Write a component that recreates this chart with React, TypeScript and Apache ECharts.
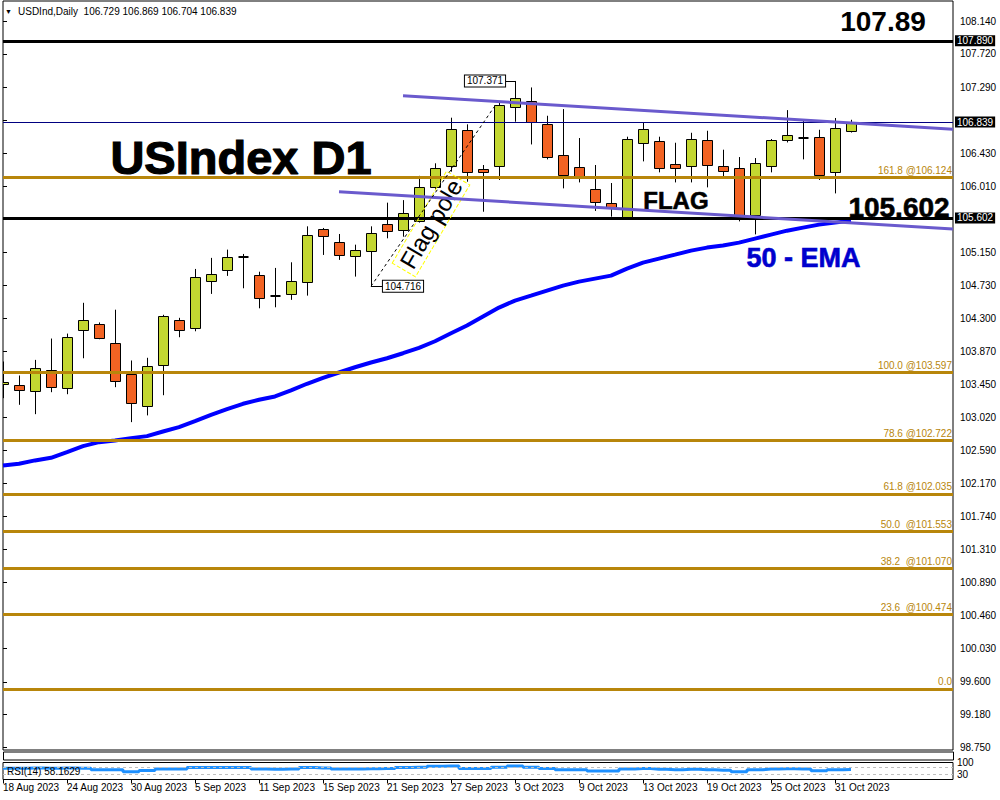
import React, { useEffect, useRef } from "react";
import * as echarts from "echarts";

// Trading days shown on the chart (one candle per day)
const dates = [
  "18 Aug 2023", "21 Aug 2023", "22 Aug 2023", "23 Aug 2023", "24 Aug 2023", "25 Aug 2023",
  "28 Aug 2023", "29 Aug 2023", "30 Aug 2023", "31 Aug 2023", "1 Sep 2023", "4 Sep 2023",
  "5 Sep 2023", "6 Sep 2023", "7 Sep 2023", "8 Sep 2023", "11 Sep 2023", "12 Sep 2023",
  "13 Sep 2023", "14 Sep 2023", "15 Sep 2023", "18 Sep 2023", "19 Sep 2023", "20 Sep 2023",
  "21 Sep 2023", "22 Sep 2023", "25 Sep 2023", "26 Sep 2023", "27 Sep 2023", "28 Sep 2023",
  "29 Sep 2023", "2 Oct 2023", "3 Oct 2023", "4 Oct 2023", "5 Oct 2023", "6 Oct 2023",
  "9 Oct 2023", "10 Oct 2023", "11 Oct 2023", "12 Oct 2023", "13 Oct 2023", "16 Oct 2023",
  "17 Oct 2023", "18 Oct 2023", "19 Oct 2023", "20 Oct 2023", "23 Oct 2023", "24 Oct 2023",
  "25 Oct 2023", "26 Oct 2023", "27 Oct 2023", "30 Oct 2023", "31 Oct 2023", "1 Nov 2023",
];

const opens = [
  103.455, 103.442, 103.364, 103.635, 103.403, 104.152, 104.231, 103.984, 103.583, 103.17,
  103.687, 104.282, 104.178, 104.785, 104.918, 105.086, 104.863, 104.597, 104.617, 104.777,
  105.457, 105.284, 105.112, 105.162, 105.515, 105.443, 105.557, 105.995, 106.271, 106.731,
  106.228, 106.271, 107.03, 107.111, 106.818, 106.413, 106.258, 105.978, 105.788, 105.616,
  106.568, 106.594, 106.297, 106.271, 106.607, 106.271, 106.245, 105.633, 106.271, 106.607,
  106.626, 106.646, 106.194, 106.729,
];
const highs = [
  103.743, 103.562, 103.764, 104.04, 104.104, 104.502, 104.248, 104.413, 103.756, 103.791,
  104.347, 104.308, 104.94, 105.083, 105.19, 105.134, 104.904, 104.953, 105.026, 105.491,
  105.47, 105.392, 105.254, 105.491, 105.797, 105.83, 106.144, 106.306, 106.896, 106.81,
  106.284, 107.1, 107.371, 107.287, 106.921, 107.007, 106.633, 106.284, 106.051, 106.65,
  106.84, 106.65, 106.572, 106.701, 106.727, 106.482, 106.387, 106.374, 106.62, 106.994,
  106.856, 106.74, 106.892, 106.869,
];
const lows = [
  103.269, 103.183, 103.062, 103.346, 103.32, 103.785, 104.031, 103.411, 102.959, 103.046,
  103.307, 104.057, 104.134, 104.617, 104.85, 104.69, 104.431, 104.444, 104.54, 104.595,
  105.121, 105.057, 104.841, 104.716, 105.336, 105.357, 105.54, 105.96, 106.198, 106.068,
  105.68, 106.09, 106.844, 106.55, 106.357, 105.982, 106.059, 105.69, 105.616, 105.607,
  106.331, 106.189, 106.059, 106.059, 105.995, 106.137, 105.555, 105.387, 106.189, 106.576,
  106.357, 106.09, 105.917, 106.704,
];
const closes = [
  103.481, 103.377, 103.661, 103.416, 104.062, 104.282, 104.049, 103.493, 103.209, 103.687,
  104.325, 104.152, 104.832, 104.876, 105.09, 105.088, 104.566, 104.593, 104.785, 105.38,
  105.37, 105.112, 105.186, 105.4, 105.428, 105.659, 106.003, 106.241, 106.749, 106.188,
  106.188, 107.06, 107.147, 106.84, 106.387, 106.155, 106.129, 105.806, 105.736, 106.62,
  106.749, 106.245, 106.245, 106.62, 106.284, 106.207, 105.633, 106.31, 106.607, 106.672,
  106.63, 106.155, 106.762, 106.839,
];

// 50-period exponential moving average
const ema50 = [
  102.399, 102.421, 102.464, 102.498, 102.571, 102.649, 102.7, 102.722, 102.752, 102.778,
  102.838, 102.894, 102.972, 103.054, 103.127, 103.196, 103.248, 103.291, 103.369, 103.455,
  103.532, 103.601, 103.669, 103.73, 103.785, 103.85, 103.92, 104.005, 104.108, 104.208,
  104.324, 104.44, 104.531, 104.595, 104.66, 104.725, 104.776, 104.815, 104.854, 104.944,
  105.022, 105.074, 105.125, 105.177, 105.216, 105.242, 105.28, 105.332, 105.384, 105.435,
  105.474, 105.513, 105.539, 105.565,
];

// RSI(14)
const rsi14 = [
  66, 66, 67, 66, 67, 66, 58, 58, 46, 53, 62, 62, 70, 70, 71, 70, 62, 60, 62, 70,
  68, 62, 62, 63, 64, 70, 72, 78, 80, 64, 64, 72, 80, 72, 64, 58, 58, 50, 50, 62,
  64, 60, 58, 60, 58, 55, 45, 58, 62, 63, 62, 52, 58, 58.1629,
];

// Fibonacci extension levels
const fibRatios = ["161.8", "100.0", "78.6", "61.8", "50.0", "38.2", "23.6", "0.0"];
const fibValues = [106.124, 103.597, 102.722, 102.035, 101.553, 101.07, 100.474, 99.508];

// Horizontal support / resistance and last price
const keyLevels = [107.89, 105.602];
const lastPrice = 106.839;

// Flag channel and flag-pole trend lines: [bar index, price]
const channelTop = [[25, 107.179], [59.375, 106.747]];
const channelBottom = [[21, 105.939], [59.375, 105.456]];
const poleLine = [[23, 104.716], [30.75, 107.05]];

// Price axis
const priceLabels = [
  108.14, 107.72, 107.29, 106.43, 106.01, 105.15, 104.73, 104.3, 103.87, 103.45, 103.02,
  102.59, 102.17, 101.74, 101.31, 100.89, 100.46, 100.03, 99.6, 99.18, 98.75,
];
const priceTicks = [...priceLabels, 106.86, 105.58];
const dateTickIdx = [0, 4, 8, 12, 16, 20, 24, 28, 32, 36, 40, 44, 48, 52];
const rsiLevels = [70, 30];
const rsiLabels = [30, 70, 100];

const Y_MIN = 98.719;
const Y_MAX = 108.405;
const X_MAX = 59.375;

const FONT = '"Liberation Sans", Arial, sans-serif';
const BULL = "#C3D731";
const BEAR = "#F26323";
const FIB = "#B8860B";

function buildOption() {
  const candles = opens.map((o, i) => [i, o, highs[i], lows[i], closes[i]]);
  const last = opens.length - 1;
  const hiIdx = highs.indexOf(Math.max(...highs.slice(20)));
  const loIdx = 23;

  const boxLabel = {
    backgroundColor: "#fff",
    borderColor: "#000",
    borderWidth: 1,
    padding: [1, 2, 0, 2],
    fontSize: 10,
    color: "#000",
    fontFamily: FONT,
  };
  const axisBox = (v: number) => ({
    show: true,
    position: "end",
    formatter: v.toFixed(3),
    backgroundColor: "#000",
    color: "#fff",
    fontSize: 10,
    fontFamily: FONT,
    padding: [1, 2, 0, 2],
    distance: 2,
  });

  const levelLines: any[] = fibValues.map((v, k) => ({
    yAxis: v,
    lineStyle: { color: FIB, width: 3, type: "solid" },
    label: {
      show: true,
      position: "insideEndTop",
      formatter:
        fibRatios[k] === "0.0"
          ? "0.0"
          : fibRatios[k] + (parseFloat(fibRatios[k]) < 60 ? "  @" : " @") + v.toFixed(3),
      color: FIB,
      fontSize: 10,
      fontFamily: FONT,
      distance: [1, 2],
    },
  }));
  keyLevels.forEach((v) =>
    levelLines.push({ yAxis: v, lineStyle: { color: "#000", width: 3, type: "solid" }, label: axisBox(v) })
  );
  levelLines.push({
    yAxis: lastPrice,
    lineStyle: { color: "#000080", width: 1, type: "solid" },
    label: axisBox(lastPrice),
  });

  const bigText = (size: number, color = "#000", stroke = 0) => ({
    show: true,
    position: "inside",
    fontSize: size,
    fontWeight: "bold",
    fontFamily: FONT,
    color,
    textBorderColor: color,
    textBorderWidth: stroke,
  });

  return {
    animation: false,
    backgroundColor: "#fff",
    textStyle: { fontFamily: FONT },
    grid: [
      { left: 3, right: 47, top: 1, height: 749, show: true, borderColor: "#000", borderWidth: 1, backgroundColor: "transparent" },
      { left: 3, right: 47, top: 762.5, height: 17, show: true, borderColor: "#000", borderWidth: 1, backgroundColor: "transparent" },
    ],
    xAxis: [
      { type: "value", gridIndex: 0, min: 0, max: X_MAX, show: false },
      {
        type: "value",
        gridIndex: 1,
        min: 0,
        max: X_MAX,
        axisLine: { show: false },
        splitLine: { show: false },
        axisTick: { show: true, customValues: dateTickIdx, length: 4, lineStyle: { color: "#000" } },
        axisLabel: {
          customValues: dateTickIdx,
          formatter: (v: number) => dates[Math.round(v)] || "",
          align: "left",
          margin: 3,
          fontSize: 10,
          color: "#000",
          fontFamily: FONT,
        },
      },
    ],
    yAxis: [
      {
        type: "value",
        gridIndex: 0,
        position: "right",
        min: Y_MIN,
        max: Y_MAX,
        splitLine: { show: false },
        axisLine: { show: false },
        axisTick: { show: true, customValues: priceTicks, length: 4, lineStyle: { color: "#000" } },
        axisLabel: {
          customValues: priceLabels,
          formatter: (v: number) => v.toFixed(3),
          margin: 7,
          fontSize: 10,
          color: "#000",
          fontFamily: FONT,
        },
      },
      {
        type: "value",
        gridIndex: 1,
        position: "right",
        min: 0,
        max: 100,
        splitLine: { show: false },
        axisLine: { show: false },
        axisTick: { show: true, customValues: rsiLevels, length: 3, lineStyle: { color: "#000" } },
        axisLabel: {
          customValues: rsiLabels,
          hideOverlap: false,
          showMinLabel: true,
          showMaxLabel: true,
          margin: 4,
          fontSize: 10,
          color: "#000",
          fontFamily: FONT,
        },
      },
    ],
    series: [
      {
        type: "custom",
        name: "USDInd",
        xAxisIndex: 0,
        yAxisIndex: 0,
        clip: true,
        z: 2,
        encode: { x: 0, y: [1, 2, 3, 4] },
        data: candles,
        renderItem: (params: any, api: any) => {
          const i = api.value(0);
          const o = api.value(1);
          const h = api.value(2);
          const l = api.value(3);
          const c = api.value(4);
          const pO = api.coord([i, o]);
          const yC = api.coord([i, c])[1];
          const yH = api.coord([i, h])[1];
          const yL = api.coord([i, l])[1];
          const cx = Math.round(pO[0]) + 0.5;
          const half = 5;
          const top = Math.min(pO[1], yC);
          const bottom = Math.max(pO[1], yC);
          const children: any[] = [
            { type: "line", shape: { x1: cx, y1: yH, x2: cx, y2: yL }, style: { stroke: "#000", lineWidth: 1 } },
          ];
          if (bottom - top < 1.5) {
            const yy = Math.round(yC);
            children.push({
              type: "line",
              shape: { x1: cx - half, y1: yy, x2: cx + half, y2: yy },
              style: { stroke: "#000", lineWidth: 2 },
            });
          } else {
            children.push({
              type: "rect",
              shape: { x: cx - half, y: Math.round(top) + 0.5, width: half * 2, height: Math.round(bottom - top) },
              style: { fill: c >= o ? BULL : BEAR, stroke: "#000", lineWidth: 1 },
            });
          }
          return { type: "group", children };
        },
      },
      {
        type: "line",
        name: "EMA 50",
        xAxisIndex: 0,
        yAxisIndex: 0,
        z: 4,
        data: ema50.map((v, i) => [i, v]),
        symbol: "none",
        lineStyle: { color: "#0000FF", width: 4 },
        markLine: {
          silent: true,
          symbol: ["none", "none"],
          data: levelLines,
        },
      },
      {
        type: "line",
        name: "channel top",
        xAxisIndex: 0,
        yAxisIndex: 0,
        z: 5,
        data: channelTop,
        symbol: "none",
        lineStyle: { color: "#6A5ACD", width: 3 },
      },
      {
        type: "line",
        name: "channel bottom",
        xAxisIndex: 0,
        yAxisIndex: 0,
        z: 5,
        data: channelBottom,
        symbol: "none",
        lineStyle: { color: "#6A5ACD", width: 3 },
      },
      {
        type: "line",
        name: "flag pole",
        xAxisIndex: 0,
        yAxisIndex: 0,
        z: 6,
        data: poleLine,
        symbol: "none",
        lineStyle: { color: "#000", width: 1, type: [3, 3] },
        markLine: {
          silent: true,
          symbol: ["none", "none"],
          label: { show: false },
          lineStyle: { color: "#000", width: 1, type: "solid" },
          data: [
            [{ coord: [hiIdx, highs[hiIdx]] }, { coord: [hiIdx - 0.58, highs[hiIdx]] }],
            [{ coord: [loIdx, lows[loIdx]] }, { coord: [loIdx + 0.73, lows[loIdx]] }],
          ],
        },
        markPoint: {
          silent: true,
          symbol: "circle",
          symbolSize: 0,
          itemStyle: { color: "transparent" },
          data: [
            { coord: [hiIdx - 1.875, highs[hiIdx]], label: { show: true, position: "inside", formatter: highs[hiIdx].toFixed(3), ...boxLabel } },
            { coord: [loIdx + 2.0, lows[loIdx]], label: { show: true, position: "inside", formatter: lows[loIdx].toFixed(3), ...boxLabel } },
            {
              coord: [26.75, 105.521],
              label: {
                show: true,
                position: "inside",
                formatter: "Flag pole",
                rotate: 59.4,
                fontSize: 24,
                fontFamily: FONT,
                color: "#000",
                borderColor: "#FFFF00",
                borderType: "dashed",
                borderWidth: 1,
                padding: [2, 4, 1, 4],
              },
            },
            { coord: [42.06, 105.831], label: { ...bigText(24, "#000", 0.6), formatter: "FLAG" } },
            { coord: [56.0, keyLevels[1]], label: { ...bigText(28, "#000", 0.6), formatter: keyLevels[1].toFixed(3), offset: [0, -10] } },
            { coord: [55.0, keyLevels[0]], label: { ...bigText(28), formatter: keyLevels[0].toFixed(2), offset: [0, -19] } },
            { coord: [50.03, 105.081], label: { ...bigText(27, "#0000CD", 0.6), formatter: "50 - EMA" } },
            { coord: [14.875, 106.381], label: { ...bigText(47, "#000", 1.2), formatter: "USIndex D1" } },
          ],
        },
      },
      {
        type: "line",
        name: "RSI(14)",
        xAxisIndex: 1,
        yAxisIndex: 1,
        z: 4,
        data: rsi14.map((v, i) => [i, v]),
        symbol: "none",
        step: "middle",
        lineStyle: { color: "#1E90FF", width: 3 },
        markLine: {
          silent: true,
          symbol: ["none", "none"],
          label: { show: false },
          lineStyle: { color: "#C0C0C0", width: 1, type: [3, 3] },
          data: rsiLevels.map((v) => ({ yAxis: v })),
        },
      },
    ],
    graphic: [
      {
        type: "rect",
        shape: { x: 3.5, y: 752, width: 950, height: 8 },
        style: { fill: "transparent", stroke: "#000", lineWidth: 1 },
        silent: true,
      },
      {
        type: "text",
        x: 5,
        y: 11,
        style: { text: "▼", font: `7px ${FONT}`, fill: "#000", verticalAlign: "middle" },
        silent: true,
      },
      {
        type: "text",
        x: 18,
        y: 11,
        style: {
          text: `USDInd,Daily  ${opens[last].toFixed(3)} ${highs[last].toFixed(3)} ${lows[last].toFixed(3)} ${closes[last].toFixed(3)}`,
          font: `10px ${FONT}`,
          fill: "#000",
          verticalAlign: "middle",
        },
        silent: true,
      },
      {
        type: "text",
        x: 7,
        y: 771.5,
        z: 10,
        style: {
          text: `RSI(14) ${rsi14[last].toFixed(4)}`,
          font: `10px ${FONT}`,
          fill: "#000",
          verticalAlign: "middle",
        },
        silent: true,
      },
    ],
  };
}

export default function App() {
  const ref = useRef<HTMLDivElement>(null);
  useEffect(() => {
    if (!ref.current) return;
    const chart = echarts.init(ref.current, null, { renderer: "svg" });
    chart.setOption(buildOption() as any);
    return () => chart.dispose();
  }, []);
  return (
    <div
      ref={ref}
      style={{ position: "absolute", left: 0, top: 0, width: 1000, height: 800, background: "#fff" }}
    />
  );
}
